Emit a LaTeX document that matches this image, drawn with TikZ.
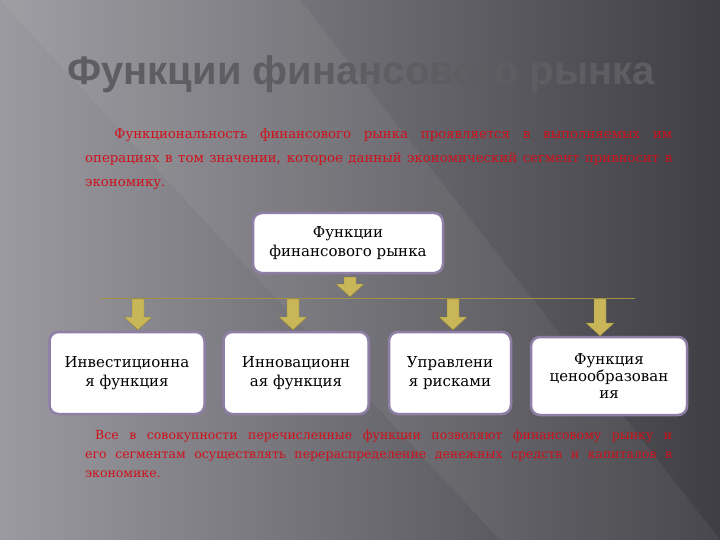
\documentclass[tikz,border=0pt]{standalone}
\usepackage{fontspec}
\setmainfont{DejaVu Serif}
\newfontfamily\titlefont{Liberation Sans}
\definecolor{bgl}{HTML}{9A9AA0}
\definecolor{bgd}{HTML}{3E3E44}
\definecolor{txtred}{HTML}{D0101A}
\definecolor{gold}{HTML}{C9B658}
\definecolor{boxedge}{HTML}{8E7FA6}
\definecolor{titlegray}{HTML}{5E5E62}
\newcommand\myblockarrow[3]{% x, ytop, ybottom
  \fill[gold,draw=gold!70!black,line width=0.4pt] (#1-6,#2) -- (#1+6,#2) -- (#1+6,#3-13) -- (#1+14,#3-13) -- (#1,#3) -- (#1-14,#3-13) -- (#1-6,#3-13) -- cycle;}
\tikzset{
 fbox/.style={draw=boxedge,line width=2.5pt,fill=white,rounded corners=9pt,align=center,font=\fontsize{15}{19}\selectfont,text=black},
 para/.style={text=txtred,anchor=north west,align=justify,inner sep=0pt}
}
\begin{document}
\begin{tikzpicture}[x=1pt,y=-1pt]
\useasboundingbox (0,0) rectangle (720,540);
\shade[left color=bgl,right color=bgd] (0,0) rectangle (720,540);
\fill[white,opacity=0.05] (0,0) -- (300,0) -- (720,540) -- (500,540) -- cycle;
\node[text=titlegray,draw=none] (title) at (361,74) {\titlefont\bfseries\fontsize{40}{42}\selectfont Функции финансового рынка};
\node[para,text width=587pt,font=\fontsize{13.3}{24}\selectfont] (p1) at (85,128) {\hspace*{2.2em}Функциональность финансового рынка проявляется в выполняемых им операциях в том значении, которое данный экономический сегмент привносит в экономику.};
\node[fbox,minimum width=190pt,minimum height=60pt] (top) at (348,243) {Функции\\финансового рынка};
\draw[gold!80!black,line width=1pt] (100,298) coordinate (l1) -- (635,298) coordinate (l2);
\myblockarrow{350}{277}{297}
\node[fbox,minimum width=155pt,minimum height=82pt] (b1) at (127,373) {Инвестиционна\\я функция};
\node[fbox,minimum width=145pt,minimum height=82pt] (b2) at (296,373) {Инновационн\\ая функция};
\node[fbox,minimum width=122pt,minimum height=82pt] (b3) at (450,373) {Управлени\\я рисками};
\node[fbox,minimum width=156pt,minimum height=78pt,font=\fontsize{15}{17}\selectfont] (b4) at (609,376) {Функция\\ценообразован\\ия};
\myblockarrow{138}{299}{330}
\myblockarrow{293}{299}{330}
\myblockarrow{453}{299}{330}
\myblockarrow{600}{299}{336}
\node[para,text width=587pt,font=\fontsize{12.5}{19}\selectfont] (p2) at (85,430) {\hspace*{0.8em}Все в совокупности перечисленные функции позволяют финансовому рынку и его сегментам осуществлять перераспределение денежных средств и капиталов в экономике.};
\end{tikzpicture}
\end{document}
